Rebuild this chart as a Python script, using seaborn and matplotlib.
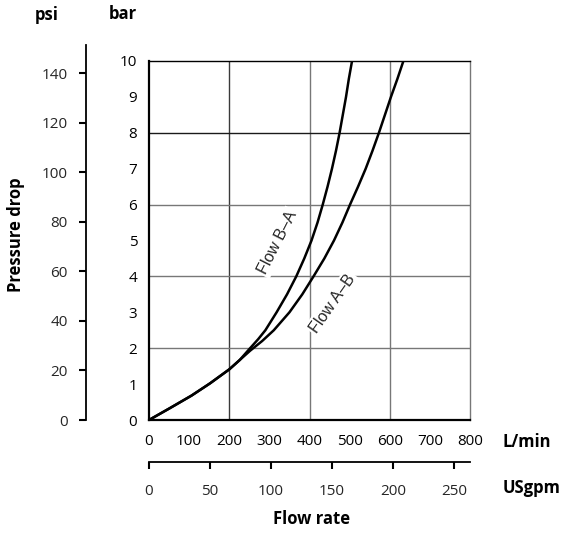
import matplotlib
matplotlib.use("Agg")
import matplotlib.pyplot as plt
from matplotlib.ticker import FixedLocator
import seaborn as sns
import pandas as pd

# ---------------- data ----------------
flow_ba = [0, 52, 106, 152, 200, 226, 248, 272, 290, 318, 344, 367, 387, 405, 420, 433, 445, 456, 466, 475, 483, 491, 498, 506]
bar_ba = [0, 0.33, 0.68, 1.02, 1.41, 1.67, 1.95, 2.25, 2.5, 3.0, 3.5, 4.0, 4.5, 5.0, 5.5, 6.0, 6.5, 7.0, 7.5, 8.0, 8.5, 9.0, 9.5, 10.0]

flow_ab = [0, 52, 106, 152, 200, 226, 252, 282, 311, 350, 382, 410, 437, 461, 482, 501, 521, 540, 557, 573, 588, 603, 619, 634]
bar_ab = [0, 0.33, 0.68, 1.02, 1.41, 1.67, 1.93, 2.2, 2.5, 3.0, 3.5, 4.0, 4.5, 5.0, 5.5, 6.0, 6.5, 7.0, 7.5, 8.0, 8.5, 9.0, 9.5, 10.0]

series_names = ["Flow B\u2013A", "Flow A\u2013B"]

lmin_labels = [0, 100, 200, 300, 400, 500, 600, 700, 800]
lmin_marks = [100, 300, 400, 500, 700]
bar_labels = [0, 1, 2, 3, 4, 5, 6, 7, 8, 9, 10]
bar_marks = [1, 3, 5, 7, 9]
psi_labels = [0, 20, 40, 60, 80, 100, 120, 140]
gpm_labels = [0, 50, 100, 150, 200, 250]
grid_x = [200, 400, 600]
grid_y = [2, 4, 6, 8]
BAR_TO_PSI = 14.5038

df = pd.concat([
    pd.DataFrame({"flow": flow_ba, "bar": bar_ba, "series": series_names[0]}),
    pd.DataFrame({"flow": flow_ab, "bar": bar_ab, "series": series_names[1]}),
], ignore_index=True)

# ---------------- style ----------------
sns.set_theme(style="white")
plt.rcParams["font.family"] = ["Open Sans", "DejaVu Sans"]

W, H = 567, 533
fig = plt.figure(figsize=(W / 100, H / 100), dpi=100)


def rect(x0, y0, x1, y1):
    return [x0 / W, 1 - y1 / H, (x1 - x0) / W, (y1 - y0) / H]


ax = fig.add_axes(rect(149, 61, 470, 420))
ax.set_xlim(0, 800)
ax.set_ylim(0, 10)

for gx in grid_x:
    ax.axvline(gx, color="#3a3a3a" if gx == 200 else "#777777", lw=1.0, zorder=0.5)
for gy in grid_y:
    ax.axhline(gy, color="#1a1a1a" if gy == 8 else "#777777", lw=1.0, zorder=0.5)

sns.lineplot(data=df, x="flow", y="bar", hue="series", units="series",
             estimator=None, sort=False, palette={s: "black" for s in series_names},
             linewidth=1.8, legend=False, ax=ax, zorder=3)
for ln in ax.lines:
    ln.set_solid_joinstyle("round")
    ln.set_solid_capstyle("round")

ax.set_xlabel("")
ax.set_ylabel("")

# spines
for s in ["left", "bottom"]:
    ax.spines[s].set_color("black")
    ax.spines[s].set_linewidth(1.6)
ax.spines["top"].set_color("black")
ax.spines["top"].set_linewidth(1.0)
ax.spines["right"].set_color("#777777")
ax.spines["right"].set_linewidth(1.0)

# ticks: labels on majors (no marks), marks on minors
ax.xaxis.set_major_locator(FixedLocator(lmin_labels))
ax.set_xticklabels([str(v) for v in lmin_labels])
ax.xaxis.set_minor_locator(FixedLocator(lmin_marks))
ax.yaxis.set_major_locator(FixedLocator(bar_labels))
ax.set_yticklabels([str(v) for v in bar_labels])
ax.yaxis.set_minor_locator(FixedLocator(bar_marks))
ax.tick_params(axis="both", which="major", length=0, labelsize=11, colors="black")
ax.tick_params(axis="x", which="major", pad=10)
ax.tick_params(axis="y", which="major", pad=8.5)
ax.tick_params(axis="both", which="minor", length=5, width=1.5, color="black",
               direction="out", bottom=True, left=True)

# curve labels
lab_font = ["Liberation Sans", "DejaVu Sans"]
ax.text(320, 4.95, series_names[0], rotation=63, ha="center", va="center",
        fontsize=11.5, family=lab_font, zorder=2,
        bbox=dict(facecolor="white", edgecolor="none", pad=1.5))
ax.text(457, 3.25, series_names[1], rotation=55, ha="center", va="center",
        fontsize=11.5, family=lab_font, zorder=2,
        bbox=dict(facecolor="white", edgecolor="none", pad=1.5))

# psi axis
ax_psi = fig.add_axes(rect(86, 45, 87, 420))
ax_psi.patch.set_visible(False)
for s in ["top", "right", "bottom"]:
    ax_psi.spines[s].set_visible(False)
ax_psi.spines["left"].set_color("black")
ax_psi.spines["left"].set_linewidth(1.3)
ax_psi.set_ylim(0, 10 * BAR_TO_PSI * (420 - 45) / (420 - 61))
ax_psi.set_xticks([])
ax_psi.yaxis.set_major_locator(FixedLocator(psi_labels))
ax_psi.set_yticklabels([str(v) for v in psi_labels])
ax_psi.tick_params(axis="y", length=5, width=1.5, color="black", direction="out",
                   pad=8, labelsize=11, left=True)

# USgpm axis
ax_gpm = fig.add_axes(rect(149, 452, 470, 462))
ax_gpm.patch.set_visible(False)
for s in ["top", "right", "left"]:
    ax_gpm.spines[s].set_visible(False)
ax_gpm.spines["bottom"].set_color("black")
ax_gpm.spines["bottom"].set_linewidth(1.3)
ax_gpm.set_xlim(0, (470 - 149) / ((454 - 149) / 250))
ax_gpm.set_yticks([])
ax_gpm.xaxis.set_major_locator(FixedLocator(gpm_labels))
ax_gpm.set_xticklabels([str(v) for v in gpm_labels])
ax_gpm.tick_params(axis="x", length=5, width=1.5, color="black", direction="out",
                   pad=11, labelsize=11, bottom=True)

# titles
bold = dict(fontsize=12, fontweight="bold", color="black")
fig.text(47 / W, 1 - 15 / H, "psi", ha="center", va="center", **bold)
fig.text(123 / W, 1 - 14 / H, "bar", ha="center", va="center", **bold)
fig.text(16 / W, 1 - 235 / H, "Pressure drop", rotation=90, ha="center", va="center", **bold)
fig.text(503 / W, 1 - 442 / H, "L/min", ha="left", va="center", **bold)
fig.text(503 / W, 1 - 488 / H, "USgpm", ha="left", va="center", **bold)
fig.text(312 / W, 1 - 519 / H, "Flow rate", ha="center", va="center", **bold)

fig.savefig("out.png", dpi=100)
